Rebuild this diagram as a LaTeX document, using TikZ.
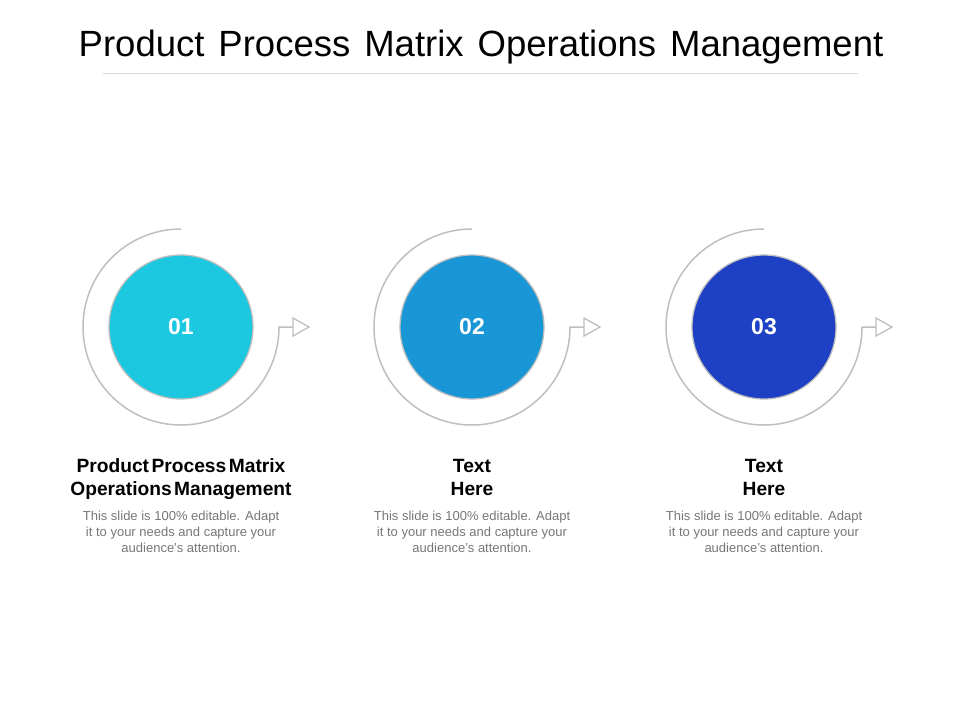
\documentclass[tikz,border=0pt]{standalone}
\usepackage{fontspec}
\setmainfont{Liberation Sans}
\definecolor{cA}{RGB}{27,200,223}
\definecolor{cB}{RGB}{25,150,214}
\definecolor{cC}{RGB}{29,64,196}
\definecolor{ringgray}{RGB}{191,191,191}
\definecolor{bodygray}{RGB}{118,118,118}
\definecolor{rulegray}{RGB}{217,217,217}
\newcommand\tsp{\hspace{14pt}}
\newcommand\hsp{\hspace{2.5pt}}
\tikzset{
  disc/.style={circle, draw=ringgray, line width=1.3pt, minimum size=144pt, inner sep=0pt,
     font=\fontsize{23}{26}\selectfont\bfseries, text=white},
  ring/.style={draw=ringgray, line width=1.5pt},
  tip/.style={draw=ringgray, line width=1.3pt, fill=white, line join=miter},
  headtext/.style={align=center, font=\fontsize{19.2}{23}\selectfont\bfseries, text=black, inner sep=0pt, anchor=base},
  bodytext/.style={align=center, font=\fontsize{13}{16}\selectfont, text=bodygray, inner sep=0pt, anchor=base}
}
\begin{document}
\begin{tikzpicture}[x=1pt,y=-1pt]
\useasboundingbox (0,0) rectangle (960,720);
\node[font=\fontsize{36.5}{40}\selectfont, inner sep=0pt, anchor=base] (title) at (481,56) {Product\tsp Process\tsp Matrix\tsp Operations\tsp Management};
\coordinate (rl) at (103,73);
\coordinate (rr) at (858,73);
\draw[rulegray, line width=1pt] (rl) -- (rr);
\foreach \i/\x/\col/\num in {1/181/cA/01, 2/472/cB/02, 3/764/cC/03}{
  \node[disc, fill=\col] (c\i) at (\x,327) {\num};
  \coordinate (s\i) at (\x,229);
  \coordinate (e\i) at (\x+98,327);
  \coordinate (t\i) at (\x+112,327);
  \draw[ring] (s\i) arc[start angle=-90, end angle=-360, radius=98] -- (t\i);
  \draw[tip] (t\i) -- ++(0,-9) -- ++(16,9) -- ++(-16,9) -- cycle;
}
\node[headtext] (h1) at (181,495) {Product\hsp Process\hsp Matrix\\Operations\hsp Management};
\node[headtext] (h2) at (472,495) {Text\\Here};
\node[headtext] (h3) at (764,495) {Text\\Here};
\foreach \i/\x in {1/181,2/472,3/764}{
  \node[bodytext] (b\i) at (\x,552) {This slide is 100\% editable. Adapt\\it to your needs and capture your\\audience's attention.};
}
\end{tikzpicture}
\end{document}
